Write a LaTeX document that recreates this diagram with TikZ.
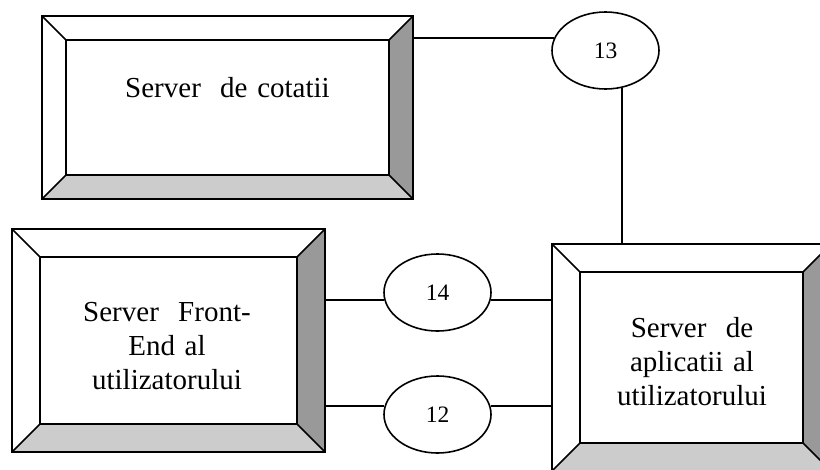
\documentclass[tikz,border=0pt]{standalone}
\usepackage{fontspec}
\setmainfont{Liberation Serif}
\usetikzlibrary{shapes.geometric}
\tikzset{
  bevnode/.style={rectangle, inner sep=0pt, outer sep=0pt},
  bevline/.style={draw=black, line width=1.6pt, line join=miter},
  rightbev/.style={fill=black!40},
  bottombev/.style={fill=black!20},
  conn/.style={draw=black, line width=1.6pt},
  oval/.style={ellipse, draw=black, line width=1.6pt, fill=white, inner sep=0pt,
    minimum width=107pt, minimum height=77pt, font=\fontsize{23.5}{28}\selectfont},
  boxtext/.style={text width=300pt, align=center, anchor=base, inner sep=0pt,
    font=\fontsize{29}{34}\selectfont},
}
% name, x1, y1, x2, y2, bevel (pixels, y downwards)
\newcommand\bevbox[6]{%
  \node[bevnode, minimum width={#4-#2}, minimum height={#5-#3}] (#1) at ({(#2+#4)/2},{-(#3+#5)/2}) {};
  \node[bevnode, minimum width={#4-#2-2*#6}, minimum height={#5-#3-2*#6}] (#1i) at (#1.center) {};
  \fill[rightbev] (#1.north east) -- (#1i.north east) -- (#1i.south east) -- (#1.south east) -- cycle;
  \fill[bottombev] (#1.south west) -- (#1i.south west) -- (#1i.south east) -- (#1.south east) -- cycle;
  \draw[bevline] (#1.north west) rectangle (#1.south east);
  \draw[bevline] (#1i.north west) rectangle (#1i.south east);
  \draw[bevline] (#1.north west) -- (#1i.north west);
  \draw[bevline] (#1.north east) -- (#1i.north east);
  \draw[bevline] (#1.south west) -- (#1i.south west);
  \draw[bevline] (#1.south east) -- (#1i.south east);
}
\begin{document}
\begin{tikzpicture}[x=1pt,y=1pt]
\path[use as bounding box, clip] (0,0) rectangle (820,-469);
\fill[white] (0,0) rectangle (820,-469);

\bevbox{b1}{42}{16}{413}{199}{24}
\bevbox{b2}{12}{229}{325}{452}{28}
\bevbox{b3}{552}{244}{831}{471}{28}

\node[boxtext] (t1) at (227.5,-97) {Server~~de cotatii};
\node[boxtext] (t2) at (167,-321) {Server~~Front-\\End al\\utilizatorului};
\node[boxtext] (t3) at (692,-337) {Server~~de\\aplicatii al\\utilizatorului};

\node[oval] (e13) at (605.5,-50.5) {13};
\node[oval] (e14) at (437.5,-292.5) {14};
\node[oval] (e12) at (437.5,-414.5) {12};

\draw[conn] (e13.166 -| b1.east) -- (e13.166);
\draw[conn] (e13.294) -- (e13.294 |- b3.north);
\draw[conn] (e14.188 -| b2.east) -- (e14.188);
\draw[conn] (e14.352) -- (e14.352 -| b3.west);
\draw[conn] (e12.171 -| b2.east) -- (e12.171);
\draw[conn] (e12.9) -- (e12.9 -| b3.west);
\end{tikzpicture}
\end{document}
